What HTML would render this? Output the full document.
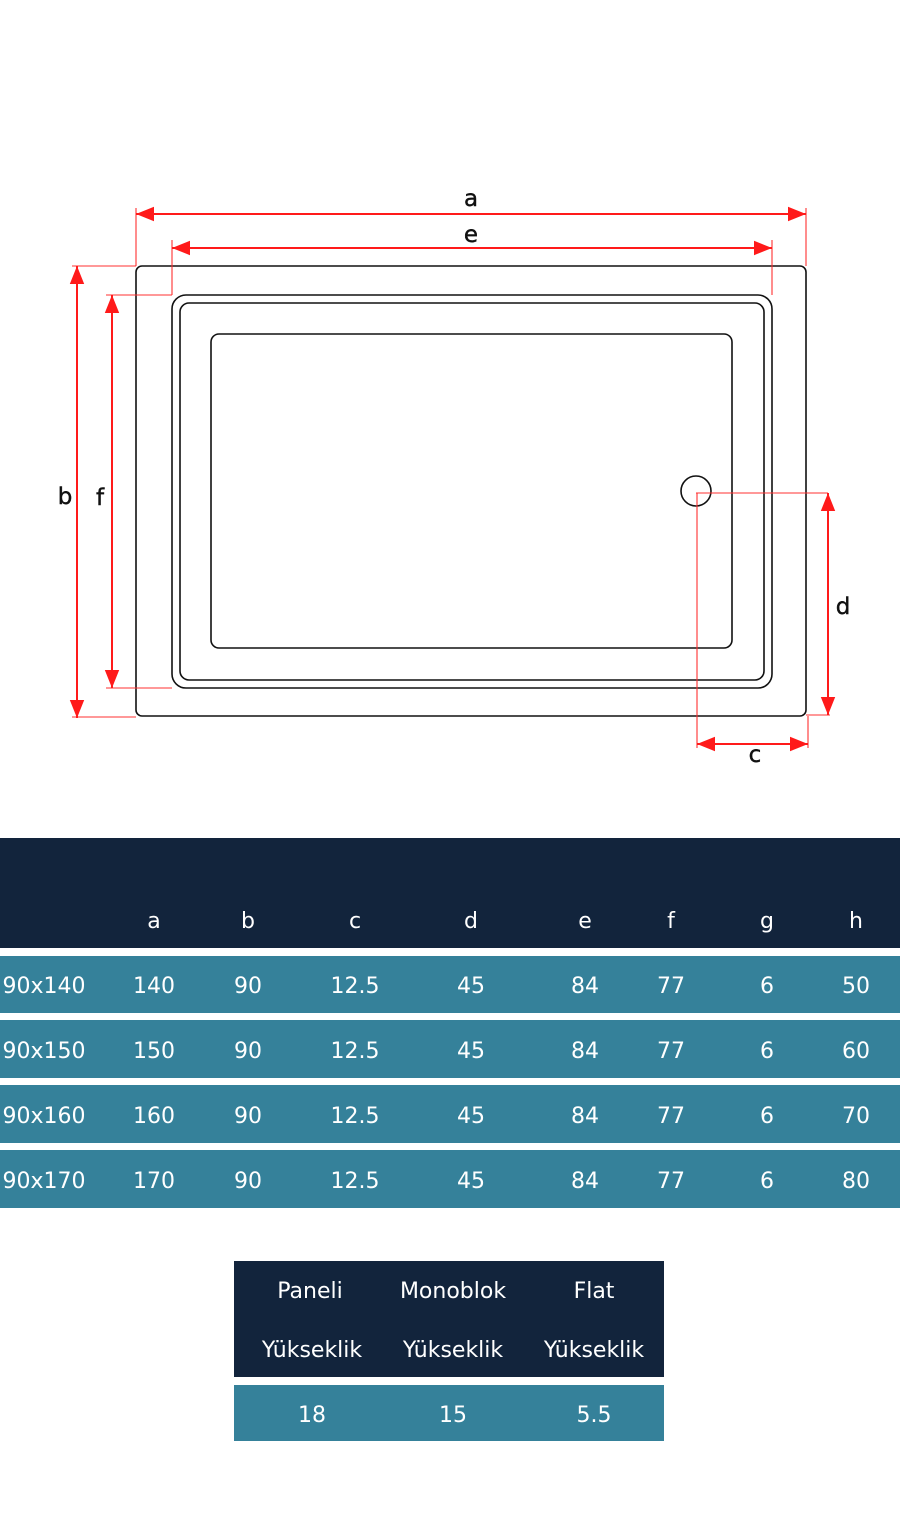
<!DOCTYPE html>
<html><head><meta charset="utf-8"><style>
html,body{margin:0;padding:0;background:#fff;width:900px;height:1535px;overflow:hidden}
svg{display:block}
text{font-family:"DejaVu Sans","Liberation Sans",sans-serif}
</style></head><body>
<svg width="900" height="1535" viewBox="0 0 900 1535" xmlns="http://www.w3.org/2000/svg">
<defs>
<marker id="ar" viewBox="0 0 10 10" refX="10" refY="5" markerWidth="18" markerHeight="18" markerUnits="userSpaceOnUse" orient="auto-start-reverse"><path d="M0,1 L10,5 L0,9 z" fill="#ff1a1a"/></marker>
</defs>
<g fill="none" stroke="#111" stroke-width="1.6">
<rect x="136" y="266" width="670" height="450" rx="6"/>
<rect x="172" y="295" width="600" height="393" rx="14"/>
<rect x="180" y="303" width="584" height="377" rx="9"/>
<rect x="211" y="334" width="521" height="314" rx="8"/>
<circle cx="696" cy="491" r="15"/>
</g>
<g stroke="#ff3030" stroke-width="1.1" fill="none">
<line x1="136" y1="208" x2="136" y2="266"/>
<line x1="806" y1="208" x2="806" y2="266"/>
<line x1="172" y1="240" x2="172" y2="295"/>
<line x1="772" y1="240" x2="772" y2="295"/>
<line x1="72" y1="266" x2="136" y2="266"/>
<line x1="72" y1="717" x2="136" y2="717"/>
<line x1="106" y1="295" x2="172" y2="295"/>
<line x1="106" y1="688" x2="172" y2="688"/>
<line x1="696" y1="493" x2="828" y2="493"/>
<line x1="806" y1="715" x2="830" y2="715"/>
<line x1="697" y1="493" x2="697" y2="748"/>
<line x1="808" y1="716" x2="808" y2="748"/>
</g>
<g stroke="#ff1a1a" stroke-width="2" fill="none" marker-start="url(#ar)" marker-end="url(#ar)">
<line x1="136" y1="214" x2="806" y2="214"/>
<line x1="172" y1="248" x2="772" y2="248"/>
<line x1="77" y1="266" x2="77" y2="718"/>
<line x1="112" y1="295" x2="112" y2="688"/>
<line x1="828" y1="493" x2="828" y2="715"/>
<line x1="697" y1="744" x2="808" y2="744"/>
</g>
<g font-size="23" fill="#111" text-anchor="middle" stroke="#111" stroke-width="0.4">
<text x="471" y="206">a</text>
<text x="471" y="242">e</text>
<text x="65" y="504">b</text>
<text x="100" y="505">f</text>
<text x="843" y="614">d</text>
<text x="755" y="762">c</text>
</g>
<rect x="0" y="838" width="900" height="110" fill="#12243c"/>
<g fill="#35819a">
<rect x="0" y="956" width="900" height="57"/>
<rect x="0" y="1020" width="900" height="58"/>
<rect x="0" y="1085" width="900" height="58"/>
<rect x="0" y="1150" width="900" height="58"/>
</g>
<g font-size="22" fill="#fff" text-anchor="middle" font-family="Liberation Sans, sans-serif">
<text x="154" y="928">a</text><text x="248" y="928">b</text><text x="355" y="928">c</text><text x="471" y="928">d</text><text x="585" y="928">e</text><text x="671" y="928">f</text><text x="767" y="928">g</text><text x="856" y="928">h</text>
</g>
<g font-size="22" fill="#fff" text-anchor="middle">
<text x="44" y="993">90x140</text><text x="154" y="993">140</text><text x="248" y="993">90</text><text x="355" y="993">12.5</text><text x="471" y="993">45</text><text x="585" y="993">84</text><text x="671" y="993">77</text><text x="767" y="993">6</text><text x="856" y="993">50</text>
<text x="44" y="1058">90x150</text><text x="154" y="1058">150</text><text x="248" y="1058">90</text><text x="355" y="1058">12.5</text><text x="471" y="1058">45</text><text x="585" y="1058">84</text><text x="671" y="1058">77</text><text x="767" y="1058">6</text><text x="856" y="1058">60</text>
<text x="44" y="1123">90x160</text><text x="154" y="1123">160</text><text x="248" y="1123">90</text><text x="355" y="1123">12.5</text><text x="471" y="1123">45</text><text x="585" y="1123">84</text><text x="671" y="1123">77</text><text x="767" y="1123">6</text><text x="856" y="1123">70</text>
<text x="44" y="1188">90x170</text><text x="154" y="1188">170</text><text x="248" y="1188">90</text><text x="355" y="1188">12.5</text><text x="471" y="1188">45</text><text x="585" y="1188">84</text><text x="671" y="1188">77</text><text x="767" y="1188">6</text><text x="856" y="1188">80</text>
</g>
<rect x="234" y="1261" width="430" height="116" fill="#12243c"/>
<rect x="234" y="1385" width="430" height="56" fill="#35819a"/>
<g font-size="22" fill="#fff" text-anchor="middle">
<text x="310" y="1298">Paneli</text><text x="453" y="1298">Monoblok</text><text x="594" y="1298">Flat</text>
<text x="312" y="1357">Yükseklik</text><text x="453" y="1357">Yükseklik</text><text x="594" y="1357">Yükseklik</text>
<text x="312" y="1422">18</text><text x="453" y="1422">15</text><text x="594" y="1422">5.5</text>
</g>
</svg>
</body></html>
